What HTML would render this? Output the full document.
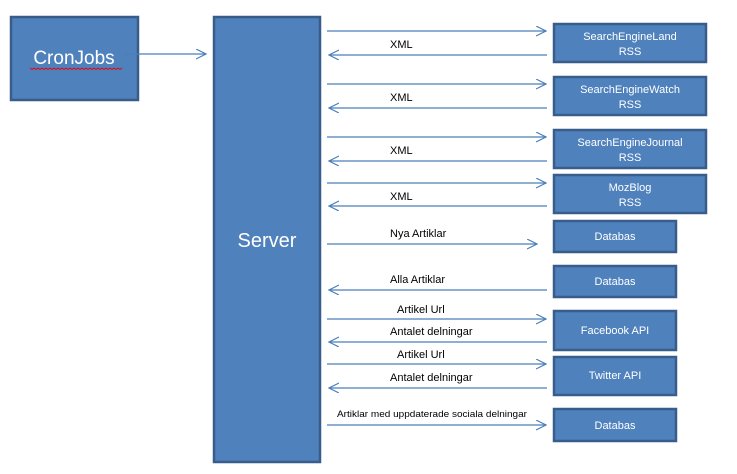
<!DOCTYPE html>
<html><head><meta charset="utf-8"><style>
html,body{margin:0;padding:0;background:#fff;}
svg{display:block;}
text{font-family:"Liberation Sans",sans-serif;}
.w{fill:#fff;font-size:11px;text-anchor:middle;}
.k{fill:#000;font-size:11px;}
.b{fill:#4F81BD;stroke:#385D8A;stroke-width:2.5;}
.l{stroke:#4A7EBB;stroke-width:1.2;fill:none;}
</style></head><body>
<svg width="737" height="474" viewBox="0 0 737 474">
<defs>
<marker id="a" markerWidth="12" markerHeight="12" refX="10" refY="5" orient="auto" markerUnits="userSpaceOnUse"><path d="M0,0 L10,5 L0,10" fill="none" stroke="#4A7EBB" stroke-width="1.2"/></marker>
</defs>
<rect class="b" x="11" y="17" width="127" height="83"/>
<text x="74" y="64" style="fill:#fff;font-size:19px;text-anchor:middle">CronJobs</text>
<path d="M30,68 l2,1.5 l2,-1.5 l2,1.5 l2,-1.5 l2,1.5 l2,-1.5 l2,1.5 l2,-1.5 l2,1.5 l2,-1.5 l2,1.5 l2,-1.5 l2,1.5 l2,-1.5 l2,1.5 l2,-1.5 l2,1.5 l2,-1.5 l2,1.5 l2,-1.5 l2,1.5 l2,-1.5 l2,1.5 l2,-1.5 l2,1.5 l2,-1.5 l2,1.5 l2,-1.5 l2,1.5 l2,-1.5 l2,1.5 l2,-1.5 l2,1.5 l2,-1.5 l2,1.5 l2,-1.5 l2,1.5 l2,-1.5 l2,1.5 l2,-1.5 l2,1.5 l2,-1.5 l2,1.5 l2,-1.5 l2,1.5 l2,-1.5" stroke="#e00" stroke-width="0.8" fill="none"/>
<line class="l" x1="125" y1="54" x2="206" y2="54" marker-end="url(#a)"/>
<rect class="b" x="214" y="17" width="106" height="445"/>
<text x="267" y="247" style="fill:#fff;font-size:20px;text-anchor:middle">Server</text>

<g>
<rect class="b" x="554" y="24" width="152" height="38"/><text class="w" x="630" y="40">SearchEngineLand</text><text class="w" x="630" y="55">RSS</text>
<rect class="b" x="554" y="77" width="152" height="38"/><text class="w" x="630" y="93">SearchEngineWatch</text><text class="w" x="630" y="108">RSS</text>
<rect class="b" x="554" y="130" width="152" height="38"/><text class="w" x="630" y="146">SearchEngineJournal</text><text class="w" x="630" y="161">RSS</text>
<rect class="b" x="554" y="175" width="152" height="38"/><text class="w" x="630" y="191">MozBlog</text><text class="w" x="630" y="206">RSS</text>
<rect class="b" x="554" y="221" width="122" height="31"/><text class="w" x="615" y="240">Databas</text>
<rect class="b" x="554" y="266" width="122" height="31"/><text class="w" x="615" y="285">Databas</text>
<rect class="b" x="554" y="311" width="122" height="39"/><text class="w" x="615" y="334">Facebook API</text>
<rect class="b" x="554" y="357" width="122" height="38"/><text class="w" x="615" y="379">Twitter API</text>
<rect class="b" x="554" y="409" width="122" height="32"/><text class="w" x="615" y="429">Databas</text>
</g>

<g>
<line class="l" x1="327" y1="31" x2="546" y2="31" marker-end="url(#a)"/>
<line class="l" x1="547" y1="55" x2="329" y2="55" marker-end="url(#a)"/>
<text class="k" x="390" y="48">XML</text>
<line class="l" x1="327" y1="84" x2="546" y2="84" marker-end="url(#a)"/>
<line class="l" x1="547" y1="108" x2="329" y2="108" marker-end="url(#a)"/>
<text class="k" x="390" y="101">XML</text>
<line class="l" x1="327" y1="137" x2="546" y2="137" marker-end="url(#a)"/>
<line class="l" x1="547" y1="161" x2="329" y2="161" marker-end="url(#a)"/>
<text class="k" x="390" y="154">XML</text>
<line class="l" x1="327" y1="183" x2="546" y2="183" marker-end="url(#a)"/>
<line class="l" x1="547" y1="206" x2="329" y2="206" marker-end="url(#a)"/>
<text class="k" x="390" y="200">XML</text>
<line class="l" x1="327" y1="244" x2="537" y2="244" marker-end="url(#a)"/>
<text class="k" x="390" y="237">Nya Artiklar</text>
<line class="l" x1="547" y1="290" x2="329" y2="290" marker-end="url(#a)"/>
<text class="k" x="390" y="283">Alla Artiklar</text>
<line class="l" x1="327" y1="319" x2="546" y2="319" marker-end="url(#a)"/>
<text class="k" x="397" y="313">Artikel Url</text>
<line class="l" x1="547" y1="342" x2="329" y2="342" marker-end="url(#a)"/>
<text class="k" x="390" y="335">Antalet delningar</text>
<line class="l" x1="327" y1="364" x2="546" y2="364" marker-end="url(#a)"/>
<text class="k" x="397" y="358">Artikel Url</text>
<line class="l" x1="547" y1="388" x2="329" y2="388" marker-end="url(#a)"/>
<text class="k" x="390" y="381">Antalet delningar</text>
<line class="l" x1="327" y1="425" x2="546" y2="425" marker-end="url(#a)"/>
<text class="k" x="337" y="417" style="font-size:9.5px" textLength="190" lengthAdjust="spacingAndGlyphs">Artiklar med uppdaterade sociala delningar</text>
</g>
</svg>
</body></html>
